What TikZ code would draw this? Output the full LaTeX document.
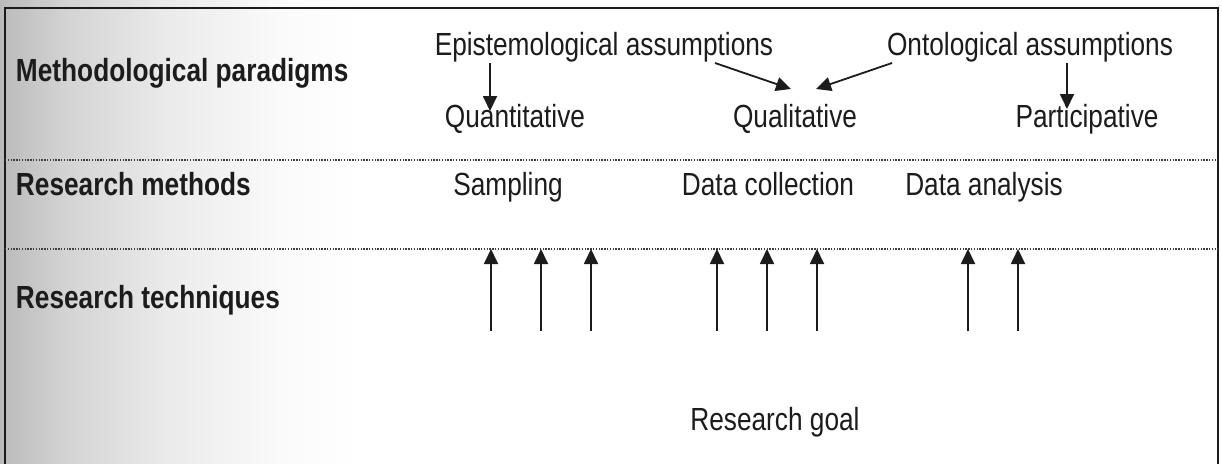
\documentclass[tikz,border=0pt]{standalone}
\usepackage{fontspec}
\setmainfont[FakeStretch=0.82]{Liberation Sans}
\usetikzlibrary{arrows.meta}
\definecolor{ink}{HTML}{1C1C1C}
\pgfdeclarehorizontalshading{scanfade}{100bp}{%
  color(0bp)=(black!27); color(25bp)=(black!27); color(33bp)=(black!17);
  color(45bp)=(black!8); color(58bp)=(black!2); color(68bp)=(white); color(100bp)=(white)}
\begin{document}
\begin{tikzpicture}[x=1pt,y=-1pt,
  every node/.style={inner sep=0pt, outer sep=0pt, text=ink, font=\fontsize{32}{38}\selectfont},
  rowlabel/.style={anchor=base west, font=\fontsize{32}{38}\selectfont\bfseries},
  item/.style={anchor=base},
  arr/.style={draw=ink, line width=1.8pt, -{Triangle[length=15pt,width=14pt]}},
  sepline/.style={draw=ink!85, line width=1.3pt, dash pattern=on 1.3pt off 1.5pt},
  frame/.style={draw=ink, line width=2.2pt}]
\useasboundingbox (0,0) rectangle (1222,463);
\fill[white] (0,0) rectangle (1222,463);
% scan shading at the left
\shade[shading=scanfade] (0,0) rectangle (420,463);
% frame
\draw[frame] (5,470) -- (5,8) -- (1218,8) -- (1218,470);
% separators
\coordinate (s1l) at (5,160);  \coordinate (s1r) at (1218,160);
\coordinate (s2l) at (5,249);  \coordinate (s2r) at (1218,249);
\draw[sepline] (s1l) -- (s1r);
\draw[sepline] (s2l) -- (s2r);
% row labels
\node[rowlabel] (mp) at (16,81)  {Methodological paradigms};
\node[rowlabel] (rm) at (16,195) {Research methods};
\node[rowlabel] (rt) at (16,308) {Research techniques};
% paradigm row
\node[item] (epi)  at (604,55)  {Epistemological assumptions};
\node[item] (ont)  at (1030,55) {Ontological assumptions};
\node[item] (quan) at (515,127) {Quantitative};
\node[item] (qual) at (795,127) {Qualitative};
\node[item] (part) at (1087,127) {Participative};
% methods row
\node[item] (samp) at (508,195) {Sampling};
\node[item] (dcol) at (768,195) {Data collection};
\node[item] (dana) at (984,195) {Data analysis};
% goal
\node[item] (goal) at (775,430) {Research goal};
% paradigm arrows
\coordinate (e1) at (490,63);  \coordinate (q1) at (490,111);
\coordinate (e2) at (715,63);  \coordinate (q2) at (791,89);
\coordinate (o1) at (892,63);  \coordinate (q3) at (816,89);
\coordinate (o2) at (1067,63); \coordinate (p1) at (1067,109);
\draw[arr] (e1) -- (q1);
\draw[arr] (e2) -- (q2);
\draw[arr] (o1) -- (q3);
\draw[arr] (o2) -- (p1);
% technique arrows
\foreach \x [count=\i] in {491,541,591,717,767,817,968,1018} {
  \coordinate (t\i) at (\x,331);
  \coordinate (h\i) at (\x,249);
  \draw[arr] (t\i) -- (h\i);
}
\end{tikzpicture}
\end{document}
